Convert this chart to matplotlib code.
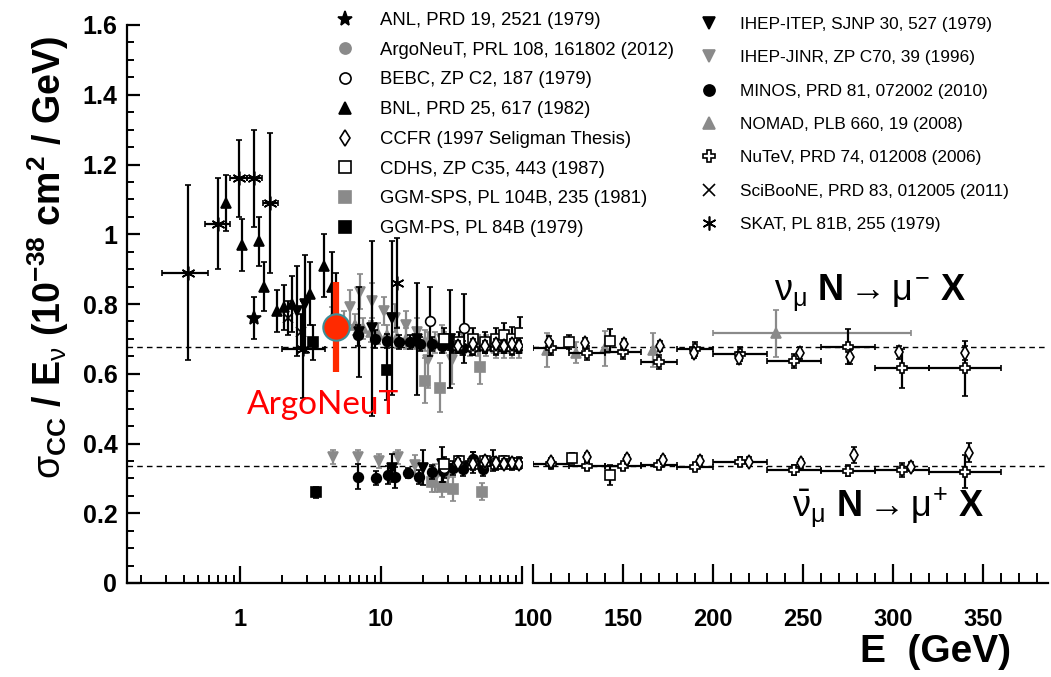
import numpy as np
import matplotlib
matplotlib.use("Agg")
import matplotlib.pyplot as plt
from matplotlib.lines import Line2D
from matplotlib.ticker import FixedLocator, NullFormatter

plt.rcParams["font.family"] = ["Liberation Sans", "DejaVu Sans"]
plt.rcParams["mathtext.fontset"] = "custom"
plt.rcParams["mathtext.rm"] = "Liberation Sans"
plt.rcParams["mathtext.it"] = "Liberation Sans"
plt.rcParams["mathtext.sf"] = "Liberation Sans"
plt.rcParams["mathtext.bf"] = "Liberation Sans:bold"

# ---- data (E in GeV, sigma/E in 1e-38 cm^2/GeV) ----
anl_e = [1.25]
anl_s = [0.76]
anl_err = [0.06]

argo_e = [4.8]
argo_s = [0.74]
argo_err = [0.05]

bebc_e = [22.3, 39.0, 28.0, 45.0, 62.0]
bebc_s = [0.75, 0.73, 0.33, 0.345, 0.35]
bebc_err = [0.10, 0.10, 0.03, 0.03, 0.03]

bnl_e = [0.80, 1.04, 1.37, 1.48, 1.82, 2.06, 2.33, 3.12, 3.97, 4.47]
bnl_s = [1.09, 0.97, 0.98, 0.85, 0.78, 0.79, 0.80, 0.83, 0.91, 0.85]
bnl_err = [0.08, 0.075, 0.07, 0.07, 0.06, 0.065, 0.08, 0.09, 0.09, 0.10]

ccfr_nu_e = [35, 45, 55, 65, 75, 85, 95, 109, 129, 150.6, 170.5, 189.6, 214.6, 248, 276, 303, 340]
ccfr_nu_s = [0.68, 0.685, 0.68, 0.685, 0.68, 0.685, 0.68, 0.692, 0.687, 0.684, 0.68,
             0.659, 0.646, 0.659, 0.647, 0.661, 0.659]
ccfr_nu_err = [0.015] * 7 + [0.015, 0.015, 0.015, 0.015, 0.015, 0.017, 0.017, 0.02, 0.02, 0.02]
ccfr_nub_e = [35, 45, 55, 65, 75, 85, 95, 110, 130, 152, 172, 193, 220, 249, 278, 310, 342]
ccfr_nub_s = [0.345, 0.34, 0.35, 0.345, 0.34, 0.345, 0.34, 0.348, 0.36, 0.355, 0.353,
              0.351, 0.348, 0.343, 0.367, 0.334, 0.374]
ccfr_nub_err = [0.01] * 7 + [0.01, 0.012, 0.012, 0.012, 0.012, 0.012, 0.012, 0.022, 0.012, 0.028]

cdhs_nu_e = [28, 36, 45, 55, 65, 75, 85, 97, 120, 143]
cdhs_nu_s = [0.70, 0.69, 0.70, 0.69, 0.70, 0.71, 0.70, 0.717, 0.692, 0.694]
cdhs_nu_err = [0.03, 0.03, 0.03, 0.03, 0.03, 0.035, 0.035, 0.047, 0.02, 0.033]
cdhs_nub_e = [28, 36, 45, 55, 65, 75, 85, 95, 121.5, 143]
cdhs_nub_s = [0.34, 0.35, 0.34, 0.35, 0.34, 0.35, 0.34, 0.345, 0.357, 0.31]
cdhs_nub_err = [0.015, 0.015, 0.015, 0.015, 0.015, 0.015, 0.015, 0.015, 0.015, 0.028]

ggmsps_e = [20.5, 26.2, 50.5, 22.9, 26.9, 32.2, 51.8]
ggmsps_s = [0.58, 0.56, 0.62, 0.29, 0.276, 0.27, 0.262]
ggmsps_err = [0.065, 0.07, 0.05, 0.03, 0.03, 0.035, 0.025]

ggmps_e = [3.3, 11.0, 3.45]
ggmps_s = [0.69, 0.61, 0.26]
ggmps_err = [0.05, 0.085, 0.015]

itep_e = [2.55, 2.9, 4.8, 7.0, 8.6, 12.0, 17.9, 30.9, 12.0, 20.0, 27.0]
itep_s = [0.78, 0.80, 0.75, 0.72, 0.73, 0.76, 0.70, 0.70, 0.33, 0.33, 0.34]
itep_err = [0.13, 0.14, 0.14, 0.13, 0.25, 0.22, 0.16, 0.14, 0.04, 0.05, 0.05]

jinr_e = [6.0, 7.1, 8.6, 10.5, 12.5, 15.0, 18.0, 21.6, 27.0, 31.7,
          4.54, 6.9, 9.7, 13.3, 17.4, 24.0, 30.0]
jinr_s = [0.79, 0.835, 0.81, 0.78, 0.76, 0.74, 0.72, 0.64, 0.70, 0.64,
          0.362, 0.362, 0.351, 0.362, 0.338, 0.30, 0.31]
jinr_err = [0.05, 0.05, 0.05, 0.04, 0.04, 0.04, 0.04, 0.08, 0.04, 0.07,
            0.02, 0.02, 0.02, 0.02, 0.03, 0.04, 0.04]

minos_e = [6.9, 9.0, 11.0, 13.5, 16.0, 19.0, 23.0, 27.0, 32.0, 38.0, 44.0,
           6.9, 9.2, 11.2, 12.5, 15.5, 18.7, 22.9, 27.6, 32.2, 38.0, 44.7, 52.7]
minos_s = [0.71, 0.70, 0.695, 0.69, 0.69, 0.685, 0.685, 0.68, 0.68, 0.675, 0.675,
           0.305, 0.300, 0.310, 0.303, 0.315, 0.305, 0.317, 0.321, 0.329, 0.326, 0.355, 0.326]
minos_err = [0.03, 0.025, 0.02, 0.02, 0.02, 0.02, 0.02, 0.02, 0.02, 0.02, 0.02,
             0.035, 0.02, 0.025, 0.03, 0.015, 0.02, 0.02, 0.03, 0.02, 0.02, 0.02, 0.02]

nomad_e = [4.5, 5.5, 6.5, 7.5, 8.5, 9.5, 11, 13, 15, 17.5, 20.5, 24, 28, 32.5, 37.5,
           43, 49, 56, 65, 75, 85, 95, 107.6, 124, 140, 166.5, 235]
nomad_s = [0.76, 0.75, 0.74, 0.73, 0.72, 0.715, 0.71, 0.705, 0.70, 0.70, 0.695, 0.69,
           0.69, 0.685, 0.685, 0.68, 0.68, 0.68, 0.675, 0.675, 0.675, 0.675,
           0.668, 0.66, 0.673, 0.668, 0.716]
nomad_err = [0.03] * 22 + [0.048, 0.03, 0.05, 0.05, 0.067]
nomad_elo = nomad_e[:26] + [200]
nomad_ehi = nomad_e[:26] + [310]

nutev_nu_e = [35, 45, 55, 65, 75, 85, 95, 110, 130, 150, 170, 190, 215, 245, 275, 305, 340]
nutev_nu_s = [0.675, 0.67, 0.675, 0.67, 0.675, 0.67, 0.675, 0.673, 0.659, 0.663, 0.635,
              0.670, 0.656, 0.637, 0.678, 0.616, 0.616]
nutev_nu_err = [0.015] * 7 + [0.02, 0.02, 0.02, 0.02, 0.02, 0.02, 0.02, 0.05, 0.056, 0.079]
nutev_nub_e = [35, 45, 55, 65, 75, 85, 95, 110, 130, 150, 170, 190, 215, 245, 275, 305, 340]
nutev_nub_s = [0.34, 0.345, 0.34, 0.345, 0.34, 0.345, 0.34, 0.341, 0.335, 0.335, 0.338,
               0.334, 0.348, 0.324, 0.322, 0.324, 0.319]
nutev_nub_err = [0.01] * 7 + [0.01, 0.01, 0.01, 0.01, 0.01, 0.012, 0.015, 0.015, 0.02, 0.047]
nutev_elo = [30, 40, 50, 60, 70, 80, 90, 100, 120, 140, 160, 180, 200, 230, 260, 290, 320]
nutev_ehi = [40, 50, 60, 70, 80, 90, 100, 120, 140, 160, 180, 200, 230, 260, 290, 320, 360]

sciboone_e = [2.2, 2.7]
sciboone_s = [0.76, 0.72]
sciboone_err = [0.05, 0.05]

skat_e = [0.43, 0.695, 0.98, 1.26, 1.63, 2.8, 13.0]
skat_s = [0.89, 1.03, 1.16, 1.16, 1.09, 0.67, 0.86]
skat_err = [0.25, 0.13, 0.11, 0.14, 0.20, 0.14, 0.13]
skat_elo = [0.28, 0.565, 0.85, 1.12, 1.46, 2.0, 13.0]
skat_ehi = [0.59, 0.85, 1.12, 1.43, 1.86, 4.0, 13.0]

# highlighted ArgoNeuT measurement
hl_e = 4.8
hl_s = 0.735
hl_lo = 0.605
hl_hi = 0.863

nu_ref = 0.677
nubar_ref = 0.335

GRAY = "#8a8a8a"

fig = plt.figure(figsize=(10.51, 6.77), dpi=100)
ax_log = fig.add_axes([127 / 1051, 94 / 677, 395 / 1051, 558 / 677])
ax_lin = fig.add_axes([533 / 1051, 94 / 677, 515 / 1051, 558 / 677])


def plot_series(e, s, err, marker, fc, ec, ecol, z, ms=7, elo=None, ehi=None):
    e = np.asarray(e, float)
    s = np.asarray(s, float)
    err = np.asarray(err, float)
    for ax, m in ((ax_log, e <= 100), (ax_lin, e > 100)):
        if not m.any():
            continue
        xerr = None
        if elo is not None:
            lo = np.asarray(elo, float)[m]
            hi = np.asarray(ehi, float)[m]
            xerr = [e[m] - lo, hi - e[m]]
        ax.errorbar(e[m], s[m], yerr=err[m], xerr=xerr, fmt="", ls="none", marker=marker,
                    ms=ms, mfc=fc, mec=ec, mew=1.2, ecolor=ecol, elinewidth=1.6,
                    capsize=2.5, capthick=1.6, zorder=z)


for ax in (ax_log, ax_lin):
    ax.axhline(nu_ref, color="black", lw=1.0, ls=(0, (4, 3)), zorder=1)
    ax.axhline(nubar_ref, color="black", lw=1.0, ls=(0, (4, 3)), zorder=1)

plot_series(nomad_e, nomad_s, nomad_err, "^", GRAY, GRAY, GRAY, 3, elo=nomad_elo, ehi=nomad_ehi)
plot_series(jinr_e, jinr_s, jinr_err, "v", GRAY, GRAY, GRAY, 3)
plot_series(ggmsps_e, ggmsps_s, ggmsps_err, "s", GRAY, GRAY, GRAY, 3)
plot_series(argo_e, argo_s, argo_err, "o", GRAY, GRAY, GRAY, 3)
plot_series(itep_e, itep_s, itep_err, "v", "black", "black", "black", 4)
plot_series(minos_e, minos_s, minos_err, "o", "black", "black", "black", 4)
plot_series(bnl_e, bnl_s, bnl_err, "^", "black", "black", "black", 4)
plot_series(anl_e, anl_s, anl_err, "*", "black", "black", "black", 4, ms=10)
plot_series(ggmps_e, ggmps_s, ggmps_err, "s", "black", "black", "black", 4)
plot_series(skat_e, skat_s, skat_err, (6, 2, 0), "black", "black", "black", 4, ms=10,
            elo=skat_elo, ehi=skat_ehi)
plot_series(sciboone_e, sciboone_s, sciboone_err, "x", "black", "black", "black", 4)
plot_series(bebc_e, bebc_s, bebc_err, "o", "white", "black", "black", 5)
plot_series(cdhs_nu_e, cdhs_nu_s, cdhs_nu_err, "s", "white", "black", "black", 5)
plot_series(cdhs_nub_e, cdhs_nub_s, cdhs_nub_err, "s", "white", "black", "black", 5)
plot_series(nutev_nu_e, nutev_nu_s, nutev_nu_err, "P", "white", "black", "black", 5,
            elo=nutev_elo, ehi=nutev_ehi)
plot_series(nutev_nub_e, nutev_nub_s, nutev_nub_err, "P", "white", "black", "black", 5,
            elo=nutev_elo, ehi=nutev_ehi)
plot_series(ccfr_nu_e, ccfr_nu_s, ccfr_nu_err, "d", "white", "black", "black", 6)
plot_series(ccfr_nub_e, ccfr_nub_s, ccfr_nub_err, "d", "white", "black", "black", 6)

# highlighted point
ax_log.errorbar([hl_e], [hl_s], yerr=[[hl_s - hl_lo], [hl_hi - hl_s]], fmt="o", ms=19,
                mfc="#ff2a00", mec="#3d8e98", mew=1.5, ecolor="#ff2a00",
                elinewidth=4.5, capsize=0, zorder=20)

# axes cosmetics
for ax in (ax_log, ax_lin):
    ax.set_ylim(0, 1.6)
    ax.spines["top"].set_visible(False)
    ax.spines["right"].set_visible(False)
    ax.spines["bottom"].set_linewidth(1.6)
    ax.patch.set_alpha(0)

ax_log.set_xscale("log")
ax_log.set_xlim(0.158, 100)
ax_log.spines["left"].set_linewidth(1.6)
ax_log.xaxis.set_major_locator(FixedLocator([1, 10, 100]))
ax_log.set_xticklabels(["1", "10", ""])
minors = [m * d for d in (0.1, 1, 10) for m in range(2, 10)]
ax_log.xaxis.set_minor_locator(FixedLocator(minors))
ax_log.xaxis.set_minor_formatter(NullFormatter())
ax_log.tick_params(axis="x", which="major", direction="in", length=12, width=1.6,
                   pad=18, labelsize=17)
ax_log.tick_params(axis="x", which="minor", direction="in", length=6, width=1.4)
ax_log.set_yticks([0, 0.2, 0.4, 0.6, 0.8, 1.0, 1.2, 1.4, 1.6])
ax_log.set_yticklabels(["0", "0.2", "0.4", "0.6", "0.8", "1", "1.2", "1.4", "1.6"])
ax_log.yaxis.set_minor_locator(FixedLocator(np.arange(0.05, 1.6, 0.05)))
ax_log.tick_params(axis="y", which="major", direction="in", length=9, width=1.6,
                   pad=7, labelsize=18)
ax_log.tick_params(axis="y", which="minor", direction="in", length=5, width=1.4)
for lab in ax_log.get_xticklabels() + ax_log.get_yticklabels():
    lab.set_fontweight("bold")

ax_lin.set_xlim(100, 386)
ax_lin.spines["left"].set_visible(False)
ax_lin.set_yticks([])
ax_lin.set_xticks([100, 150, 200, 250, 300, 350])
ax_lin.set_xticklabels(["100", "150", "200", "250", "300", "350"])
ax_lin.xaxis.set_minor_locator(FixedLocator(np.arange(110, 386, 10)))
ax_lin.tick_params(axis="x", which="major", direction="in", length=14, width=1.6,
                   pad=18, labelsize=17)
ax_lin.tick_params(axis="x", which="minor", direction="in", length=7, width=1.4)
for lab in ax_lin.get_xticklabels():
    lab.set_fontweight("bold")

# labels
fig.text(48 / 1051, 1 - 257 / 677,
         r"$\sigma_{\mathbf{CC}}$ / E$_{\nu}$ (10$^{\mathbf{-38}}$ cm$^{\mathbf{2}}$ / GeV)",
         rotation=90, ha="center", va="center", fontsize=27, fontweight="bold")
fig.text(935 / 1051, 1 - 652 / 677, "E  (GeV)", ha="center", va="center",
         fontsize=28, fontweight="bold")
fig.text(870 / 1051, 1 - 293 / 677, r"$\nu_{\mu}$ N$\rightarrow\mu^{-}$ X",
         ha="center", va="center", fontsize=26, fontweight="bold")
fig.text(888 / 1051, 1 - 508 / 677, r"$\bar{\nu}_{\mu}$ N$\rightarrow\mu^{+}$ X",
         ha="center", va="center", fontsize=26, fontweight="bold")
fig.text(323 / 1051, 1 - 405 / 677, "ArgoNeuT", ha="center", va="center",
         fontsize=24, color="#ff0000", family="Lato")

# legends
def h(marker, fc, ec, ms=8):
    return Line2D([], [], ls="none", marker=marker, ms=ms, mfc=fc, mec=ec, mew=1.2)

left_handles = [h("*", "black", "black", 11), h("o", GRAY, GRAY), h("o", "white", "black"),
                h("^", "black", "black"), h("d", "white", "black"), h("s", "white", "black"),
                h("s", GRAY, GRAY), h("s", "black", "black")]
left_labels = ["ANL, PRD 19, 2521 (1979)", "ArgoNeuT, PRL 108, 161802 (2012)",
               "BEBC, ZP C2, 187 (1979)", "BNL, PRD 25, 617 (1982)",
               "CCFR (1997 Seligman Thesis)", "CDHS, ZP C35, 443 (1987)",
               "GGM-SPS, PL 104B, 235 (1981)", "GGM-PS, PL 84B (1979)"]
right_handles = [h("v", "black", "black"), h("v", GRAY, GRAY), h("o", "black", "black"),
                 h("^", GRAY, GRAY), h("P", "white", "black"), h("x", "black", "black"),
                 h((6, 2, 0), "black", "black", 10)]
right_labels = ["IHEP-ITEP, SJNP 30, 527 (1979)", "IHEP-JINR, ZP C70, 39 (1996)",
                "MINOS, PRD 81, 072002 (2010)", "NOMAD, PLB 660, 19 (2008)",
                "NuTeV, PRD 74, 012008 (2006)", "SciBooNE, PRD 83, 012005 (2011)",
                "SKAT, PL 81B, 255 (1979)"]

fig.legend(left_handles, left_labels, loc="upper left",
           bbox_to_anchor=(336 / 1051, 1 - 12 / 677),
           bbox_transform=fig.transFigure, frameon=False, fontsize=13.3, handlelength=1.0,
           handletextpad=1.39, labelspacing=0.69, borderpad=0, borderaxespad=0)
fig.legend(right_handles, right_labels, loc="upper left",
           bbox_to_anchor=(700 / 1051, 1 - 17 / 677),
           bbox_transform=fig.transFigure, frameon=False, fontsize=12.4, handlelength=1.0,
           handletextpad=1.3, labelspacing=1.06, borderpad=0, borderaxespad=0)

fig.savefig("out.png", dpi=100)
